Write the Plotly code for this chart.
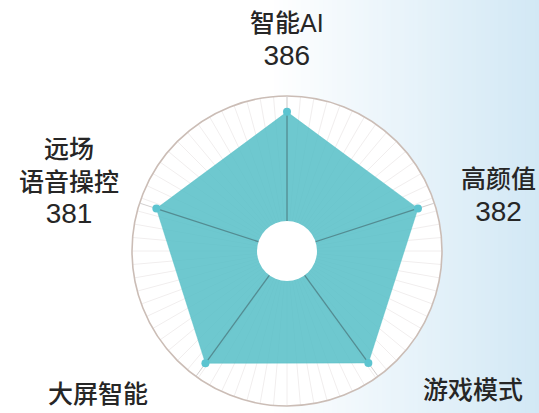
import plotly.graph_objects as go

# ---- data ----
categories = ["智能AI", "高颜值", "游戏模式", "大屏智能", "远场语音操控"]
label_lines = ["智能AI", "高颜值", "游戏模式", "大屏智能", "远场<br>语音操控"]
scores = [386, 382, 384, 385, 381]

W, H = 539, 413
cx, cy, R = 287, 251, 155          # polar centre / radius in pixels
hole_r = 30

dom_x = [(cx - R) / W, (cx + R) / W]
dom_y = [1 - (cy + R) / H, 1 - (cy - R) / H]

fig = go.Figure()

# background gradient (white -> light blue), decorative
n = 60
x_start = 0.50
c0 = (255, 255, 255)
c1 = (210, 232, 245)
for i in range(n):
    t0 = x_start + (1 - x_start) * i / n
    t1 = x_start + (1 - x_start) * (i + 1) / n
    f = (i + 0.5) / n
    col = tuple(int(round(c0[k] + (c1[k] - c0[k]) * f)) for k in range(3))
    fig.add_shape(type="rect", xref="paper", yref="paper", x0=t0, x1=t1 + 0.002,
                  y0=0, y1=1, fillcolor="rgb(%d,%d,%d)" % col, line_width=0, layer="below")

# dial background (faint radial ticks), drawn on polar (bottom)
fig.add_trace(go.Scatterpolar(r=[0], theta=[0], mode="markers", marker=dict(size=0, opacity=0),
                              hoverinfo="skip", showlegend=False, subplot="polar"))

# radar fill
fig.add_trace(go.Scatterpolar(
    r=scores + [scores[0]], theta=categories + [categories[0]],
    mode="lines", fill="toself", fillcolor="rgba(82,190,198,0.84)",
    line=dict(color="rgba(82,190,198,0.9)", width=0.5),
    hoverinfo="skip", showlegend=False, subplot="polar2"))

# spokes from centre to each vertex
for c, v in zip(categories, scores):
    fig.add_trace(go.Scatterpolar(
        r=[0, v], theta=[c, c], mode="lines",
        line=dict(color="rgba(70,105,110,0.6)", width=1.3),
        hoverinfo="skip", showlegend=False, subplot="polar2"))

# vertex markers
fig.add_trace(go.Scatterpolar(
    r=scores, theta=categories, mode="markers",
    marker=dict(size=8, color="#5cc4d0"),
    hoverinfo="skip", showlegend=False, subplot="polar2"))

# white hole in the middle
fig.add_shape(type="circle", xref="paper", yref="paper",
              x0=(cx - hole_r) / W, x1=(cx + hole_r) / W,
              y0=1 - (cy + hole_r) / H, y1=1 - (cy - hole_r) / H,
              fillcolor="white", line_width=0, layer="above")

# labels
label_pos = [(287, 40), (498, 196), (473, 407), (98, 411), (69, 182)]
for lab, v, (px, py) in zip(label_lines, scores, label_pos):
    fig.add_annotation(
        x=px / W, y=1 - py / H, xref="paper", yref="paper",
        xanchor="center", yanchor="middle", showarrow=False, align="center",
        text=f"<span style='font-size:25px;font-weight:500'>{lab}</span><br><span style='font-size:28px'>{v}</span>",
        font=dict(size=25, color="#262626",
                  family="Liberation Sans, Noto Sans CJK SC, sans-serif"))

fig.update_layout(
    width=W, height=H,
    margin=dict(l=0, r=0, t=0, b=0),
    paper_bgcolor="white", plot_bgcolor="white",
    showlegend=False,
    polar=dict(
        domain=dict(x=dom_x, y=dom_y),
        bgcolor="white",
        angularaxis=dict(type="linear", dtick=5, showgrid=True, gridcolor="#f1eeee",
                         gridwidth=1, showticklabels=False, ticks="",
                         showline=True, linecolor="#cbbdb6", linewidth=1.6),
        radialaxis=dict(visible=False, range=[0, 430]),
    ),
    polar2=dict(
        domain=dict(x=dom_x, y=dom_y),
        bgcolor="rgba(0,0,0,0)",
        angularaxis=dict(type="category", categoryarray=categories, rotation=90,
                         direction="clockwise", showgrid=True, gridcolor="#d2cfcf",
                         gridwidth=1.2, showticklabels=False, ticks="", showline=False),
        radialaxis=dict(visible=False, range=[0, 430]),
    ),
)

fig.write_html("out.html", config={"displayModeBar": False},
               post_script="document.body.style.margin='0';document.body.style.overflow='hidden';")
